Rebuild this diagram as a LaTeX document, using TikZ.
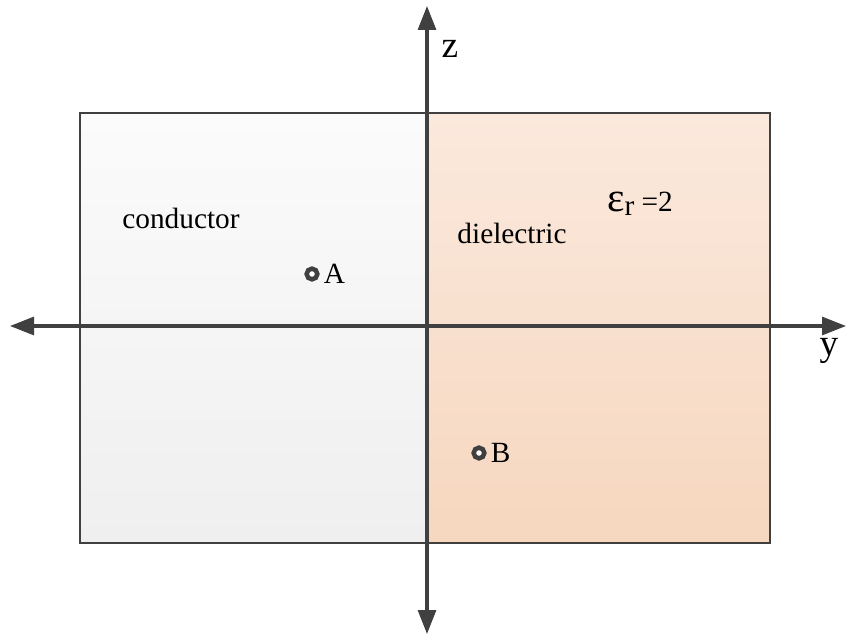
\documentclass[tikz,border=0pt]{standalone}
\usepackage{fontspec}
\setmainfont{Liberation Serif}
\usetikzlibrary{arrows.meta, positioning, shadows}
\definecolor{axisgray}{HTML}{404040}
\definecolor{condtop}{HTML}{FBFBFB}
\definecolor{condbot}{HTML}{EFEFEF}
\definecolor{dieltop}{HTML}{FBE9DD}
\definecolor{dielbot}{HTML}{F6D7BF}

\begin{document}
\begin{tikzpicture}[
    x=0.75pt, y=-0.75pt,
    every node/.style={font=\fontsize{22}{26}\selectfont, inner sep=0pt},
    axislabel/.style={font=\fontsize{28}{32}\selectfont},
    axis/.style={draw=axisgray, line width=2.3pt, {Triangle[length=18pt, width=13.5pt]}-{Triangle[length=18pt, width=13.5pt]}},
    frame/.style={draw=axisgray, line width=1.8pt},
    dot/.style={circle, draw=axisgray, fill=white, line width=3.4pt, minimum size=8pt, drop shadow={shadow xshift=1pt, shadow yshift=-1pt, fill=black!20}}
]
    \useasboundingbox (0,0) rectangle (846,634);

    % Regions
    \shade[top color=condtop, bottom color=condbot] (80,113) rectangle (427,543);
    \shade[top color=dieltop, bottom color=dielbot] (427,113) rectangle (770,543);
    \draw[frame] (80,113) rectangle (770,543);

    % Axes
    \coordinate (left) at (10,326);
    \coordinate (right) at (846,326);
    \coordinate (top) at (427,6);
    \coordinate (bottom) at (427,634);
    \draw[axis] (left) -- (right);
    \draw[axis] (bottom) -- (top);
    \node[axislabel] (zlabel) at (450,49) {z};
    \node[axislabel] (ylabel) at (829,351) {y};

    % Labels
    \node (conductor) at (181,218) {conductor};
    \node (dielectric) at (512,233) {dielectric};
    \node (eps) at (640,204) {{\fontsize{31}{31}\selectfont ε}\raisebox{-0.12em}{r} =2};

    % Points
    \node[dot] (A) at (312,274) {};
    \node[right=3pt of A] (Alabel) {A};
    \node[dot] (B) at (479,453) {};
    \node[right=3pt of B] (Blabel) {B};
\end{tikzpicture}
\end{document}
